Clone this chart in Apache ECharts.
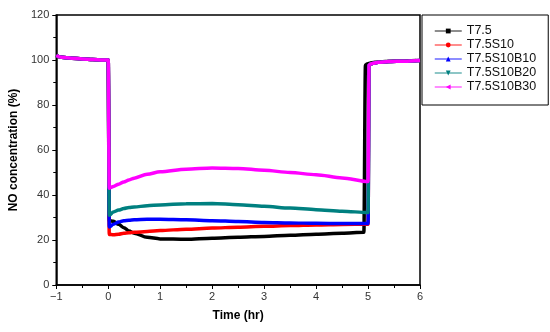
<!DOCTYPE html>
<html><head><meta charset="utf-8">
<script src="https://cdn.jsdelivr.net/npm/echarts@6/dist/echarts.min.js"></script>
<style>html,body{margin:0;padding:0;background:#fff}#c{width:550px;height:332px}</style>
</head><body><div id="c"></div>
<script>
// Series names
const seriesNames = ['T7.5', 'T7.5S10', 'T7.5S10B10', 'T7.5S10B20', 'T7.5S10B30'];
const seriesColors = ['#000000', '#ff0000', '#0000ff', '#008080', '#ff00ff'];
const seriesSymbols = ['rect', 'circle', 'triangle', 'triangle', 'triangle'];
const seriesRotate = [0, 0, 0, 180, 90];

// Before gas switch (hr) and values (%)
const tPre = [-1, -0.9, -0.7, -0.5, -0.3, -0.1, 0];
const vPre = [102, 101.2, 100.8, 100.5, 100.2, 100, 100];

// During reaction (hr)
const tMid = [0.02, 0.1, 0.2, 0.3, 0.4, 0.5, 0.75, 1, 1.5, 2, 2.5, 3, 3.5, 4, 4.5, 4.95];
const vT75      = [28.5, 28.3, 27.0, 25.5, 24.0, 23.0, 21.2, 20.5, 20.3, 20.8, 21.2, 21.6, 22.1, 22.6, 23.0, 23.4];
const vT75S10   = [22.5, 22.3, 22.6, 23.0, 23.2, 23.4, 23.8, 24.2, 24.8, 25.3, 25.7, 26.1, 26.4, 26.7, 26.9, 27.0];
const vT75S10B10= [25.8, 27.0, 28.0, 28.6, 28.8, 29.0, 29.2, 29.2, 29.0, 28.6, 28.2, 27.8, 27.6, 27.4, 27.3, 27.3];
const vT75S10B20= [31.0, 32.5, 33.3, 34.0, 34.4, 34.7, 35.2, 35.6, 36.1, 36.2, 35.7, 35.0, 34.2, 33.5, 32.8, 32.2];
const vT75S10B30= [43.0, 43.8, 44.8, 45.8, 46.7, 47.5, 49.2, 50.3, 51.5, 52.0, 51.8, 51.0, 50.0, 49.0, 47.6, 46.0];
const midValues = [vT75, vT75S10, vT75S10B10, vT75S10B20, vT75S10B30];
const midEnd = [4.92, 5.0, 5.0, 5.0, 5.0];

// After switch back (hr)
const switchBack = [4.95, 5.02, 5.02, 5.02, 5.02];
const tPostOffset = [0, 0.03, 0.08, 0.18, 0.38, 0.68, 0.98];
const vPost = [97.8, 98.2, 98.6, 99.0, 99.3, 99.5, 99.8];

function buildData(i) {
  const d = [];
  tPre.forEach((t, k) => d.push([t, vPre[k]]));
  const mt = tMid.slice(); mt[mt.length - 1] = midEnd[i];
  mt.forEach((t, k) => d.push([t, midValues[i][k]]));
  tPostOffset.forEach((o, k) => d.push([Math.min(6, switchBack[i] + o), vPost[k]]));
  return d;
}

const chart = echarts.init(document.getElementById('c'), null, {renderer: 'canvas'});
const font = '"Liberation Sans", Arial, sans-serif';
chart.setOption({
  animation: false,
  grid: {left: 52, right: 130, top: 15, bottom: 47, show: true, borderColor: '#000', borderWidth: 1.5, backgroundColor: 'transparent'},
  legend: {
    orient: 'vertical', left: 422, top: 15,
    data: seriesNames,
    itemWidth: 27, itemHeight: 6, itemGap: 0,
    padding: [9, 12, 11, 12],
    borderColor: '#000', borderWidth: 1,
    lineStyle: {width: 1.5, opacity: 0.6},
    textStyle: {fontFamily: font, fontSize: 12.5, color: '#111', lineHeight: 14, width: 66}
  },
  xAxis: {
    type: 'value', min: -1, max: 6, interval: 1,
    name: 'Time (hr)', nameLocation: 'middle', nameGap: 25,
    nameTextStyle: {fontFamily: font, fontSize: 12, fontWeight: 'bold', color: '#000'},
    axisLine: {show: true, onZero: false, lineStyle: {color: '#000', width: 1.5}},
    axisTick: {show: true, length: 4, lineStyle: {color: '#000', width: 1}},
    minorTick: {show: true, splitNumber: 2, length: 3, lineStyle: {color: '#000', width: 1}},
    axisLabel: {fontFamily: font, fontSize: 11, color: '#333', margin: 6,
      formatter: v => String(v).replace('-', '\u2212')},
    splitLine: {show: false}
  },
  yAxis: {
    type: 'value', min: 0, max: 120, interval: 20,
    name: 'NO concentration (%)', nameLocation: 'middle', nameGap: 31,
    nameTextStyle: {fontFamily: font, fontSize: 12, fontWeight: 'bold', color: '#000'},
    axisLine: {show: true, onZero: false, lineStyle: {color: '#000', width: 1.5}},
    axisTick: {show: true, length: 4, lineStyle: {color: '#000', width: 1}},
    minorTick: {show: true, splitNumber: 2, length: 3, lineStyle: {color: '#000', width: 1}},
    axisLabel: {fontFamily: font, fontSize: 11, color: '#333', margin: 7},
    splitLine: {show: false}
  },
  series: seriesNames.map((name, i) => ({
    name, type: 'line', data: buildData(i),
    symbol: seriesSymbols[i], symbolRotate: seriesRotate[i], symbolSize: 6,
    showSymbol: false, smooth: 0.3, smoothMonotone: 'x',
    color: seriesColors[i],
    lineStyle: {width: 3.5, color: seriesColors[i]},
    emphasis: {disabled: true}
  }))
});
</script></body></html>
